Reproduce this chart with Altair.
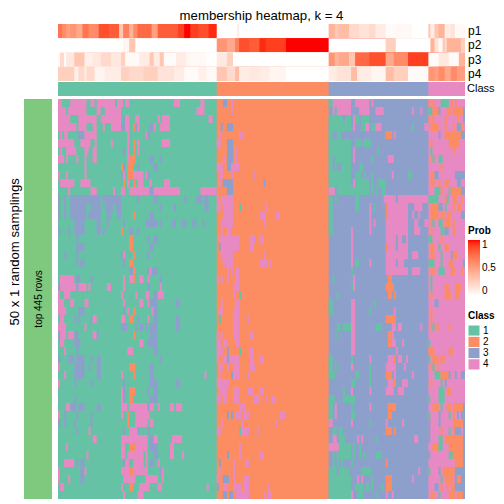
import altair as alt
import pandas as pd

TITLE = "membership heatmap, k = 4"
ROW_TITLE = "50 x 1 random samplings"
ROW_LABEL = "top 445 rows"
TRACKS = ["p1", "p2", "p3", "p4"]
CLASS_COLORS = ["#66C2A5", "#FC8D62", "#8DA0CB", "#E78AC3"]
CLASS_NAMES = ["1", "2", "3", "4"]
CLASS_SPANS = [(0, 78), (78, 133), (133, 182), (182, 200)]
N_COLS = 200
N_ROWS = 50

# membership probabilities: (number of columns, value)
p1_runs = [(2,.7),(2,.6),(2,.5),(3,.55),(3,.45),(3,.7),(5,.6),(5,.85),(5,.8),(2,.3),(3,.65),(2,.4),(2,.6),(7,.75),(3,.5),(10,.8),(3,.9),(3,1.0),(4,.9),(5,.85),(4,.95),
           (10,0),(1,.1),(44,0),
           (3,.4),(2,.3),(5,.35),(5,.2),(5,.15),(3,.2),(5,.1),(5,.02),(8,.04),(8,0),
           (1,.3),(2,.1),(2,.3),(3,.4),(3,.1),(2,.15),(5,.03)]
p2_runs = [(32,0),(3,.05),(3,.3),(40,0),
           (5,.55),(4,.45),(2,.65),(5,.85),(5,.8),(3,.95),(10,.9),(21,1.0),
           (28,0),(5,.25),(16,0),
           (1,0),(2,.4),(2,.15),(2,.03),(1,.3),(1,.2),(7,.4),(2,.25)]
p3_runs = [(1,.03),(2,.2),(1,0),(4,.12),(5,.3),(4,.08),(4,.12),(5,.2),(5,.12),(2,.25),(7,.03),(5,.1),(2,.3),(3,.1),(2,.3),(6,.02),(5,.1),(2,.05),(8,.03),(5,0),
           (5,.12),(3,.25),(47,0),
           (3,.55),(2,.4),(5,.45),(3,.3),(7,.75),(8,.85),(4,.45),(7,.6),(10,.9),
           (5,.02),(5,.12),(5,.03),(3,.4)]
p4_runs = [(8,.25),(2,.08),(3,.2),(1,.1),(4,.2),(5,.06),(8,.1),(4,.25),(7,.2),(7,.25),(8,.15),(5,.1),(7,.02),(4,.08),(5,.03),
           (5,.3),(4,.2),(2,.35),(5,.1),(5,.12),(5,.1),(8,.05),(21,0),
           (4,.1),(7,.15),(3,.35),(7,.1),(7,.05),(4,.35),(7,.25),(10,.03),
           (3,.55),(2,.5),(3,.6),(3,.45),(3,.6),(4,.5)]

# Cells that differ from their column's class: letter g/o/b/p = class 1/2/3/4, then from-to column
block1 = [
 "p0-2 p6-14 p16-18 p19-28 p29-32 p33-35 p57-60 p70-72",
 "p0-4 p5-14 p19-21 p23-31 p68-72",
 "p0-6 p10-19 p21-31 b32-33 p33-35 p38-40 p49-50 p51-55 p74-76",
 "p0-9 p10-14 p17-19 p22-23 p26-31 b31-33 p33-35 o37-38 b38-39 p39-40 b45-47 p47-48 p50-55",
 "p1-2 p3-5 b10-13 p13-19 p34-35 p43-44 b44-45",
 "p0-8 p11-16 p18-19 p26-27 p34-35 o37-38 p39-40 p51-55",
 "p1-2 p4-9 p13-15 p17-19 b32-33 p34-35 o37-38 p39-40",
 "p0-3 p4-5 p9-10 p13-14 p17-19 p34-35 o35-38 b45-47 b50-51",
 "p13-14 o31-32 b32-33 o34-37 b39-40 b47-49",
 "p0-1 p4-5 p13-14 b31-32 p32-33 o34-37 p37-42 p43-44 b44-45",
 "p1-8 p11-16 o32-33 p34-35 o37-38 p39-42 p45-46 p52-55",
 "p5-6 p16-19 p27-28 p31-33 p35-45 b45-47 p47-60 p70-78",
 "b0-1 b3-4 b6-21 b22-31 b39-40 b47-49 b62-63 b68-71 b72-74",
 "b0-1 b3-4 b6-14 b16-21 b23-27 b28-31 b50-51 b57-58 b72-74",
 "b0-1 b3-4 b6-14 b15-21 b24-26 b29-31 o37-38 b45-47",
 "b8-13 b19-21 b24-25 b32-33 b43-49 b50-51 b56-58 b61-63 b66-68 b71-72",
 "b0-1 b5-6 b8-13 b19-21 b22-23 o31-32 b35-37 b39-40",
 "b9-10 o35-37 b44-45 b47-49",
 "b9-13 o35-37 b45-47",
 "b3-4 b9-10 b31-32 p32-33 o37-38 b44-45",
 "b9-10 b11-13 b32-33 o35-37",
 "b35-37 o37-38 b44-45 p45-46 b46-49",
 "p1-8 b9-11 b16-17 p32-33 p35-37 o37-38 p40-42 p44-45 b50-51",
 "b0-1 p1-9 b9-10 p10-14 p15-16 p24-26 p32-33 b44-45 p50-51",
 "p0-1 p3-6 p31-32 p38-39 p43-45 b47-49 p49-52",
 "p0-3 p6-8 p13-15 p32-33 p40-42 p44-45 b45-49 b58-60",
 "p0-4 b10-13 b32-33 p34-35 o37-38 p46-47 b47-49",
 "p1-3 b8-9 b10-11 b16-17 p17-19 p31-33 o35-37 b39-40 p44-45 b47-49 b58-60",
 "p0-4 p13-14 b31-34 b38-39 b40-42 b43-44 b45-49 b58-60",
 "b0-1 p1-4 p5-8 b8-10 p17-19 b19-20 o37-38 b45-49",
 "p1-3 b8-11 p40-42 b44-49",
 "p3-4 b9-10 p34-37 b47-49",
 "b0-1 b5-8 b9-13 b16-17 b19-21 b50-51",
 "p0-1 b8-13 b15-16 b19-21 o35-38 b45-47",
 "p3-4 b8-13 b19-21 p31-32 o37-38 b45-47 p72-73",
 "p0-1 b8-9 b16-17 b32-33 b45-49 b58-60",
 "p31-32 b32-33 o35-38 b44-45 b47-49",
 "b8-9 p31-32 b32-33 o35-37 b45-49",
 "p4-6 b6-9 b10-13 b19-21 p31-34 p35-44 b44-45 p45-47 p49-50 p55-57 p58-61",
 "p0-1 b3-4 b9-10 b16-17 p31-32 o34-35 p38-45",
 "b0-1 b3-4 b8-9 b16-17 o34-35 p38-44 p45-47",
 "b9-10 p15-16 b32-33 p35-39 b39-40 b44-45",
 "p17-19 p31-44 b45-47 p47-49 p56-61",
 "p4-5 p31-33 o35-38 p38-44 b45-49 p55-57",
 "p14-15 p31-33 p34-42 p43-44 b47-49 p55-57 p61-62",
 "p3-8 b9-10 b11-13 b32-33 p33-35 p37-42 p43-44 b45-47 p49-50",
 "p0-1 b11-13 p13-14 p31-35 o35-37 p37-44 b50-51 p51-52",
 "p0-1 p5-6 b11-13 p32-38 p43-49 p51-52",
 "p1-3 p31-32 o35-37 p40-45 p49-51 p73-74",
 "p32-33 p39-42",
]
block2 = [
 "b81-83 p85-86", "p85-86", "", "b80-81 b83-86", "p79-80 p89-91", "p78-80 b83-86",
 "b83-86 p87-88", "p81-82 b83-86 p87-88", "p78-81 b83-85 p85-89", "p79-81 p85-86 p96-97",
 "p79-80 b81-86 b101-102", "b83-86", "p78-79 p80-86", "p78-80 p81-86 g89-90 p102-103",
 "p81-86 p99-102 p107-109", "p80-86 p101-102", "p80-81 p83-85", "p79-89 p94-97 p99-101",
 "b79-80 p80-89 p94-96", "p80-86 p101-102", "p81-86 p99-103 p104-105", "p83-84 p85-86 p87-89",
 "p78-79 p80-81 p83-84 p87-89", "p86-89", "p86-87 g89-90", "p80-81 p87-89", "p79-81 p86-89",
 "g79-80 p86-89 p93-94", "p86-89", "p78-79 p80-81 p86-89 p94-96", "p78-80 p81-83 p87-89",
 "p78-81 b83-84 g89-90 p94-96", "p78-79 p81-83 b83-84 p84-89 p94-96 p99-101",
 "p79-81 p83-84 p86-89 p94-97", "p79-80 b85-86 p86-89 p93-94", "p78-84",
 "p79-83 p86-89 p93-96 p99-101", "p78-80 p81-83 p86-89 p96-99 p102-103 p105-107", "p89-92",
 "b83-84 b85-86 p87-90 p91-94 p109-112", "p80-81 p90-91 p107-108", "p78-80 g89-90 p90-94 p98-99",
 "", "p89-90", "b83-84 p89-90 p99-101", "b79-80 p86-87 p92-94", "p79-80 p86-87",
 "p78-79 b81-84 p86-87 p91-94", "b78-79 p81-83 p86-90 p91-94 p103-104",
 "b81-83 b84-86 p87-94 p101-102 p103-105",
]
block3 = [
 "g133-135 p135-144 p146-153 p154-155",
 "p135-136 g136-137 p137-144 p148-153 p156-160 p174-175 p178-179",
 "g133-140 g141-144 p145-146 g146-148 g149-153",
 "g133-144 p145-146 g149-151 p151-153 g154-156 p156-159 g174-175 p180-182",
 "g133-135 g137-139 o161-164 p165-166",
 "g133-144 g146-149 g150-154",
 "g133-144 p145-146 g157-158",
 "g133-135 g136-144 p145-146 g154-155 p162-165",
 "g133-135 g136-137 g139-144 g148-150",
 "g133-144 g146-149 g150-151 g154-155 p164-165 g172-174",
 "g133-144 p145-146 g146-153 g154-155 g157-161",
 "p133-136 g137-153 g154-155 g156-157 g159-161",
 "g133-135 g136-137 g146-148 p160-166 p167-182",
 "g133-135 g146-148 p153-154 g155-156 o161-162 p162-172 p175-179",
 "g133-135 p153-154 o161-162 p162-172 p174-175 p177-178",
 "g133-135 p153-154 p155-156 p161-172 p175-177 p180-182",
 "g133-135 p144-145 p153-154 p161-172 p175-178",
 "p144-145 p161-166 p167-169 p171-172",
 "p144-145 o161-162 p162-166 p167-172",
 "p144-145 p161-172 p174-177",
 "p144-145 g146-148 p153-154 p161-166 p167-170",
 "g144-145 p161-172 p174-178",
 "g135-136 p145-146 o162-164",
 "g144-145 p145-146 o161-165",
 "g137-138 o162-164 o165-166",
 "g133-135 p144-146 g155-156",
 "g133-135 p144-146 g153-154 p165-166",
 "p144-146 o161-166",
 "g137-139 g140-144 p144-146 g156-159 p164-166 p167-169 p178-179",
 "g136-137 p144-146 o162-164 p164-165",
 "p144-146 o162-164 p164-166 p169-170",
 "p144-146 p166-167",
 "g133-135 g144-145 p153-154 p162-165 o165-166 p167-169 p171-172",
 "g133-135 g136-137 p144-145 g153-154 p161-166 p170-171",
 "g133-136 g146-148 g153-154 o161-164 p165-166 p174-175",
 "g144-146 g153-154 p162-165 o165-166 p169-172",
 "g140-141 p144-145 p153-154 p161-165 p167-170",
 "g133-136 g140-146",
 "g133-135 p136-137 g144-145 p153-154 o162-166",
 "g133-135 p136-137 g144-146 o162-164",
 "p133-135 p144-145 g153-154 p161-162 p169-170",
 "g135-137 g138-140 o161-164 o165-166",
 "p135-137 g138-141 p147-148 p149-150 g156-157 p175-177",
 "p133-138 g138-144 g145-146 g148-149",
 "g135-136 g137-144 g145-146 g148-149 g150-151 g156-159",
 "g135-136 g137-138 g139-140 g144-145 o161-162",
 "g133-137 g138-143 g149-154 p177-178",
 "g133-144 p147-148 p149-150 g154-155 o161-164 p174-175",
 "g133-144 g146-150 g151-153 g154-155 g159-160 o161-164",
 "g133-144 p144-145 g147-150 g156-157 p161-162 p164-165",
]
block4 = [
 "o182-183 o184-185 g188-192 o193-194 o195-196",
 "g182-184 o184-187 b187-188 o191-193 o194-199 b199-200",
 "o182-183 o184-185 o190-191 o196-197 b199-200",
 "o183-187 o190-191 o194-195 b196-198 o198-199",
 "b187-188 o190-198 b198-200",
 "o183-184 o192-197",
 "g183-184 o194-195",
 "o183-184 g184-185 g187-189",
 "o188-189",
 "o183-185 b185-187 b195-200",
 "o183-185 o187-188 o190-192 b196-198",
 "g185-188 o188-189 g192-193 o193-198 b198-200",
 "g182-187 o190-191 g191-192 o194-196 o198-199",
 "o183-187 b187-189 g190-191 o194-195 o196-198",
 "o183-187 o188-190 o191-193 b198-200",
 "o183-184 g184-185 g187-189 o190-193 o194-195",
 "o183-184 g188-190 b190-192 o194-195",
 "g182-184 o188-189",
 "o183-185 g187-188 o190-192",
 "o183-185 g188-189 b193-194 o194-196",
 "g182-185 g188-189 o192-194 b199-200",
 "o183-185 g187-190 o193-195 o198-199",
 "g183-184",
 "g183-184 o190-192 o195-198",
 "o183-184 o190-193 o195-197",
 "b185-187",
 "o183-184",
 "o183-184",
 "o183-184 g184-185 o186-187 o192-193",
 "",
 "g182-183",
 "o182-185 o192-194",
 "g182-183 o184-187 o188-190",
 "o183-184 g184-185 o186-187",
 "g185-188 o188-192 b192-193 b195-196 b198-200",
 "o183-184 g188-189 b190-191",
 "g187-190 o191-193",
 "g182-183 g187-190",
 "o184-187 g188-189 o191-193 o194-199 b199-200",
 "g182-183 b187-188 g192-193 o194-195 b196-197 b198-200",
 "b182-183 b187-188 o194-199 b199-200",
 "b182-183 o188-189 g192-193 o194-195 b195-198 b199-200",
 "b182-183 g187-189 o190-199 b199-200",
 "o184-187 g187-189 o192-199 b199-200",
 "b182-183 g192-194 o194-199 b199-200",
 "o195-199 b199-200",
 "g182-183 b187-188 o189-195 b195-200",
 "g188-189 o190-194 b195-196 o196-198 b198-200",
 "b185-187 o188-189 o191-192 o193-195 b195-200",
 "o183-185 g187-188 o192-195 o196-199 b199-200",
]

LETTER = {"g": "1", "o": "2", "b": "3", "p": "4"}

exceptions = []
for block in (block1, block2, block3, block4):
    for r, row in enumerate(block):
        for tok in row.split():
            a, b = tok[1:].split("-")
            exceptions.append({"r": r, "r2": r + 1, "c": int(a), "c2": int(b), "k": LETTER[tok[0]]})
exc_df = pd.DataFrame(exceptions)

# each run paints through to the right edge and the next run covers it, so no seams show
prob = []
for t, runs in enumerate((p1_runs, p2_runs, p3_runs, p4_runs)):
    col = 0
    for n, v in runs:
        prob.append({"t": t, "t2": t + 1, "c": col, "c2": N_COLS, "v": v})
        col += n
prob_df = pd.DataFrame(prob)

base_df = pd.DataFrame(
    [{"c": s, "c2": N_COLS, "k": k, "r": 0, "r2": N_ROWS, "a": 0, "a2": 1} for (s, e), k in zip(CLASS_SPANS, CLASS_NAMES)]
)

x_s = alt.Scale(domain=[0, N_COLS], range=[50, 457], nice=False, zero=False)
main_y = alt.Scale(domain=[0, N_ROWS], range=[91, 491], nice=False, zero=False)
track_y = alt.Scale(domain=[0, 4], range=[16, 73], nice=False, zero=False)
class_y = alt.Scale(domain=[0, 1], range=[74, 88], nice=False, zero=False)
tick_y = alt.Scale(domain=[0, 1], range=[289, 233.5], nice=False, zero=False)
swatch_y = alt.Scale(domain=[0, 4], range=[317, 362], nice=False, zero=False)

class_scale = alt.Scale(domain=CLASS_NAMES, range=CLASS_COLORS)
prob_scale = alt.Scale(domain=[0, 1], range=["#FFFFFF", "#FF0000"], interpolate="lab")
FONT = "Liberation Sans"
LEG_SIZE = 10
LEG_X = 460


def X(f):
    return alt.X(f, type="quantitative", scale=x_s, axis=None)


base_main = alt.Chart(base_df).mark_rect().encode(
    x=X("c"), x2=alt.X2("c2"),
    y=alt.Y("r:Q", scale=main_y, axis=None), y2="r2:Q",
    color=alt.Color("k:N", scale=class_scale, legend=None),
)

exc_main = alt.Chart(exc_df).mark_rect().encode(
    x=X("c"), x2=alt.X2("c2"),
    y=alt.Y("r:Q", scale=main_y, axis=None), y2="r2:Q",
    color=alt.Color("k:N", scale=class_scale, legend=None),
)

class_track = alt.Chart(base_df).mark_rect().encode(
    x=X("c"), x2=alt.X2("c2"),
    y=alt.Y("a:Q", scale=class_y, axis=None), y2="a2:Q",
    color=alt.Color("k:N", scale=class_scale, legend=None),
)

prob_track = alt.Chart(prob_df).mark_rect().encode(
    x=X("c"), x2=alt.X2("c2"),
    y=alt.Y("t:Q", scale=track_y, axis=None), y2="t2:Q",
    color=alt.Color("v:Q", scale=prob_scale, legend=alt.Legend(
        title="Prob", orient="none", legendX=LEG_X, legendY=218, type="gradient",
        values=[0, 0.5, 1], format="~g", gradientLength=56, gradientThickness=12,
        titleFont=FONT, titleFontSize=LEG_SIZE, titleFontWeight="bold", titleColor="black",
        labelFont=FONT, labelFontSize=LEG_SIZE, labelColor="black", labelOffset=2,
        titlePadding=4, padding=0, gradientStrokeWidth=0)),
)

track_labels = alt.Chart(pd.DataFrame({"c": [N_COLS] * 4, "t": [0.5, 1.5, 2.5, 3.5], "s": TRACKS})).mark_text(
    align="left", baseline="middle", dx=3, font=FONT, fontSize=12, color="black"
).encode(x=X("c"), y=alt.Y("t:Q", scale=track_y, axis=None), text="s:N")

class_label = alt.Chart(pd.DataFrame({"c": [N_COLS], "a": [0.5], "s": ["Class"]})).mark_text(
    align="left", baseline="middle", dx=2, font=FONT, fontSize=11, color="black"
).encode(x=X("c"), y=alt.Y("a:Q", scale=class_y, axis=None), text="s:N")

title_text = alt.Chart(pd.DataFrame({"c": [N_COLS / 2], "s": [TITLE]})).mark_text(
    align="center", baseline="middle", font=FONT, fontSize=13.2, color="black"
).encode(x=X("c"), y=alt.value(7.5), text="s:N")

left_bar = alt.Chart(pd.DataFrame({"r": [0], "r2": [N_ROWS]})).mark_rect(color="#7FC97F").encode(
    x=alt.value(16), x2=alt.value(44),
    y=alt.Y("r:Q", scale=main_y, axis=None), y2="r2:Q",
)

row_label = alt.Chart(pd.DataFrame({"r": [N_ROWS / 2], "s": [ROW_LABEL]})).mark_text(
    angle=270, align="center", baseline="middle", font=FONT, fontSize=10, color="black"
).encode(x=alt.value(31), y=alt.Y("r:Q", scale=main_y, axis=None), text="s:N")

row_title = alt.Chart(pd.DataFrame({"r": [19.1], "s": [ROW_TITLE]})).mark_text(
    angle=270, align="center", baseline="middle", font=FONT, fontSize=13.2, color="black"
).encode(x=alt.value(7), y=alt.Y("r:Q", scale=main_y, axis=None), text="s:N")

ticks_left = alt.Chart(pd.DataFrame({"v": [0.5, 1.0]})).mark_rule(color="white", strokeWidth=1).encode(
    x=alt.value(LEG_X), x2=alt.value(LEG_X + 3), y=alt.Y("v:Q", scale=tick_y, axis=None))
ticks_right = alt.Chart(pd.DataFrame({"v": [0.5, 1.0]})).mark_rule(color="white", strokeWidth=1).encode(
    x=alt.value(LEG_X + 9), x2=alt.value(LEG_X + 12), y=alt.Y("v:Q", scale=tick_y, axis=None))

# Class legend
swatch_df = pd.DataFrame({"i": [0, 1, 2, 3], "i2": [1, 2, 3, 4], "m": [0.5, 1.5, 2.5, 3.5], "k": CLASS_NAMES})
swatches = alt.Chart(swatch_df).mark_rect(stroke="white", strokeWidth=1).encode(
    x=alt.value(LEG_X), x2=alt.value(LEG_X + 12),
    y=alt.Y("i:Q", scale=swatch_y, axis=None), y2="i2:Q",
    color=alt.Color("k:N", scale=class_scale, legend=None),
)
swatch_labels = alt.Chart(swatch_df).mark_text(
    align="left", baseline="middle", font=FONT, fontSize=LEG_SIZE, color="black"
).encode(x=alt.value(LEG_X + 15), y=alt.Y("m:Q", scale=swatch_y, axis=None), text="k:N")
swatch_title = alt.Chart(pd.DataFrame({"m": [-0.8], "s": ["Class"]})).mark_text(
    align="left", baseline="middle", font=FONT, fontSize=LEG_SIZE, fontWeight="bold", color="black"
).encode(x=alt.value(LEG_X), y=alt.Y("m:Q", scale=swatch_y, axis=None), text="s:N")

chart = alt.layer(
    base_main, exc_main, class_track, prob_track, track_labels, class_label,
    title_text, left_bar, row_label, row_title, ticks_left, ticks_right,
    swatches, swatch_labels, swatch_title,
).resolve_scale(y="independent", color="independent").properties(
    width=488, height=491, padding=0, autosize=alt.AutoSizeParams(type="none"), background="white",
).configure_view(stroke=None)

chart.save("out.html", embed_options={"renderer": "svg", "actions": False})
